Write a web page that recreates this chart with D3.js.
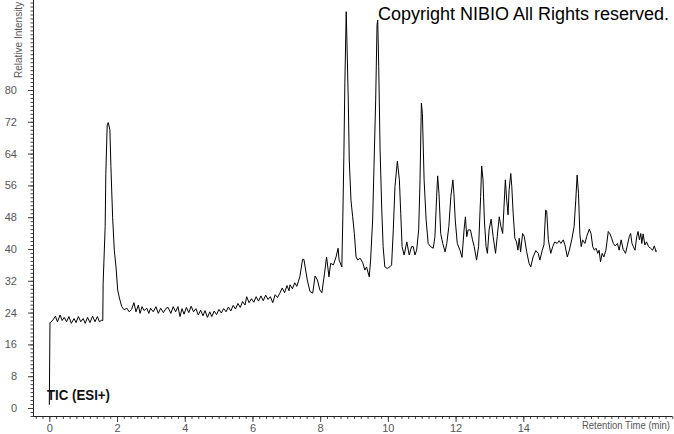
<!DOCTYPE html>
<html>
<head>
<meta charset="utf-8">
<script src="https://cdn.jsdelivr.net/npm/d3@7"></script>
<style>
  html, body { margin: 0; padding: 0; background: #fff; }
  svg { display: block; }
</style>
</head>
<body>
<svg id="chart" width="674" height="434"></svg>
<script>
// Retention time (min)
const times = [
  0.00, 0.02, 0.04, 0.12, 0.18, 0.24, 0.32, 0.38, 0.44, 0.51, 0.58, 0.65, 0.73, 0.79, 0.86, 0.93,
  1.00, 1.06, 1.13, 1.20, 1.28, 1.35, 1.42, 1.48, 1.55, 1.58, 1.59, 1.65, 1.67, 1.71, 1.74, 1.79,
  1.82, 1.87, 1.92, 1.97, 2.02, 2.07, 2.14, 2.21, 2.29, 2.36, 2.43, 2.50, 2.56, 2.63, 2.68, 2.74,
  2.80, 2.88, 2.94, 2.99, 3.07, 3.15, 3.22, 3.29, 3.37, 3.45, 3.51, 3.59, 3.66, 3.73, 3.80, 3.86,
  3.92, 3.98, 4.05, 4.12, 4.19, 4.26, 4.33, 4.40, 4.47, 4.54, 4.60, 4.67, 4.74, 4.80, 4.87, 4.94,
  5.01, 5.08, 5.15, 5.22, 5.29, 5.36, 5.43, 5.50, 5.57, 5.64, 5.71, 5.78, 5.83, 5.90, 5.97, 6.04,
  6.11, 6.18, 6.25, 6.32, 6.39, 6.46, 6.53, 6.60, 6.67, 6.74, 6.81, 6.88, 6.95, 7.02, 7.08, 7.11,
  7.18, 7.25, 7.31, 7.40, 7.48, 7.52, 7.62, 7.70, 7.78, 7.85, 7.92, 7.99, 8.05, 8.13, 8.19, 8.26,
  8.31, 8.39, 8.47, 8.53, 8.56, 8.64, 8.67, 8.70, 8.73, 8.77, 8.79, 8.83, 8.86, 8.91, 8.96, 9.01,
  9.06, 9.11, 9.18, 9.26, 9.32, 9.37, 9.45, 9.49, 9.55, 9.59, 9.64, 9.68, 9.70, 9.73, 9.77, 9.82,
  9.86, 9.91, 9.98, 10.06, 10.11, 10.16, 10.21, 10.28, 10.34, 10.38, 10.42, 10.48, 10.56, 10.63, 10.70, 10.75,
  10.80, 10.85, 10.91, 10.95, 10.99, 11.02, 11.07, 11.13, 11.19, 11.26, 11.34, 11.39, 11.44, 11.47, 11.51, 11.56,
  11.62, 11.69, 11.74, 11.80, 11.86, 11.92, 11.95, 11.99, 12.05, 12.13, 12.19, 12.25, 12.29, 12.33, 12.37, 12.44,
  12.50, 12.55, 12.62, 12.68, 12.74, 12.77, 12.81, 12.85, 12.90, 12.94, 12.99, 13.05, 13.11, 13.18, 13.23, 13.29,
  13.34, 13.39, 13.43, 13.47, 13.51, 13.55, 13.58, 13.63, 13.66, 13.70, 13.75, 13.80, 13.84, 13.88, 13.92, 13.98,
  14.03, 14.10, 14.17, 14.22, 14.29, 14.37, 14.44, 14.49, 14.56, 14.61, 14.66, 14.69, 14.74, 14.81, 14.87, 14.93,
  15.00, 15.06, 15.11, 15.18, 15.23, 15.30, 15.36, 15.43, 15.50, 15.55, 15.59, 15.63, 15.67, 15.71, 15.75, 15.82,
  15.87, 15.95, 16.00, 16.05, 16.10, 16.15, 16.20, 16.24, 16.28, 16.33, 16.38, 16.44, 16.51, 16.56, 16.61, 16.66,
  16.71, 16.78, 16.83, 16.89, 16.95, 17.02, 17.07, 17.13, 17.17, 17.21, 17.25, 17.30, 17.35, 17.39, 17.43, 17.47,
  17.50, 17.54, 17.59, 17.64, 17.70, 17.76, 17.82, 17.87, 17.92, 17.94
];
// Relative intensity
const intensities = [
  0.8, 21.5, 21.5, 22.3, 23.1, 21.7, 23.4, 22.0, 22.8, 21.7, 23.0, 21.3, 22.5, 21.5, 23.0, 21.7,
  22.5, 21.3, 22.8, 21.5, 23.1, 21.7, 23.0, 21.7, 22.1, 22.0, 31.4, 45.6, 59.0, 71.2, 71.8, 70.0,
  60.7, 48.0, 39.7, 35.5, 29.7, 27.7, 25.5, 24.7, 25.1, 24.2, 24.8, 26.5, 24.2, 25.9, 23.8, 25.5,
  24.5, 25.1, 23.8, 25.1, 24.2, 25.5, 23.8, 25.1, 24.0, 25.1, 25.3, 23.8, 25.5, 24.2, 25.5, 23.0,
  25.0, 23.6, 25.3, 24.0, 25.6, 24.2, 25.0, 23.4, 24.6, 23.2, 24.5, 22.8, 24.2, 23.0, 24.4, 23.5,
  24.8, 23.9, 25.0, 24.2, 25.4, 24.4, 25.8, 24.9, 26.3, 25.3, 26.8, 25.9, 28.0, 26.5, 27.5, 26.6,
  28.0, 26.9, 28.2, 27.0, 28.4, 27.3, 28.0, 26.5, 28.5, 27.8, 28.9, 30.2, 29.0, 30.8, 29.5, 31.0,
  30.0, 31.5, 30.6, 33.0, 37.4, 37.4, 32.2, 29.3, 28.9, 33.2, 32.2, 29.7, 29.0, 33.9, 38.0, 33.0,
  36.4, 36.0, 38.0, 40.2, 37.2, 35.5, 48.0, 63.2, 81.8, 99.7, 92.6, 77.5, 62.4, 52.3, 48.1, 43.9,
  38.0, 37.2, 37.7, 36.5, 34.7, 35.5, 33.0, 37.2, 47.3, 60.7, 77.5, 96.4, 97.6, 85.9, 64.9, 49.8,
  40.6, 35.5, 35.1, 35.5, 36.0, 44.8, 55.7, 62.1, 57.4, 49.0, 40.6, 38.5, 41.8, 38.5, 40.6, 40.6,
  38.5, 39.7, 44.8, 57.4, 76.7, 74.1, 57.4, 47.3, 41.4, 40.6, 40.2, 43.1, 53.2, 58.4, 54.0, 43.9,
  41.4, 39.3, 41.4, 45.6, 53.2, 57.4, 54.0, 47.3, 41.4, 39.7, 37.9, 44.8, 48.1, 43.1, 44.8, 44.8,
  42.3, 40.6, 37.2, 40.6, 53.2, 60.9, 57.4, 47.3, 40.6, 38.9, 44.8, 47.5, 43.1, 38.9, 43.1, 48.1,
  45.6, 43.9, 50.6, 57.4, 52.3, 48.6, 54.8, 59.0, 55.7, 49.0, 42.7, 41.8, 39.7, 42.7, 39.3, 43.9,
  43.1, 39.3, 36.4, 35.5, 38.0, 39.6, 38.9, 37.2, 39.7, 41.0, 49.8, 49.6, 42.3, 38.9, 40.6, 41.8,
  41.4, 42.1, 41.4, 42.3, 41.0, 38.0, 39.7, 42.3, 45.6, 52.3, 58.6, 54.0, 43.9, 40.6, 42.3, 41.4,
  43.1, 45.0, 43.9, 40.6, 39.7, 40.2, 38.9, 39.7, 36.8, 38.9, 38.0, 39.7, 44.4, 43.8, 42.7, 41.4,
  40.8, 41.4, 39.7, 42.3, 39.9, 38.9, 40.8, 43.1, 43.9, 41.4, 40.6, 39.7, 43.1, 44.4, 42.3, 43.9,
  41.4, 43.8, 41.0, 41.8, 40.6, 40.2, 39.7, 40.8, 39.3, 39.6
];
const xTickLabels = [0, 2, 4, 6, 8, 10, 12, 14];
const yTickLabels = [0, 8, 16, 24, 32, 40, 48, 56, 64, 72, 80];
const xTitle = "Retention Time (min)";
const yTitle = "Relative Intensity";
const traceLabel = "TIC (ESI+)";
const copyrightText = "Copyright NIBIO All Rights reserved.";

const svg = d3.select("#chart");
const x = d3.scaleLinear().domain([0, 14]).range([49.3, 523.3]);
const y = d3.scaleLinear().domain([0, 80]).range([408, 90]);

const axisX0 = 33, axisY0 = 416;
const font = "'Liberation Sans', Arial, sans-serif";
const tickColor = "#444";
const labelColor = "#555";

// Y axis
const yMinor = d3.range(-2, 103, 1);
const gyMinor = svg.append("g").attr("transform", `translate(${axisX0},0)`)
  .call(d3.axisLeft(y).tickValues(yMinor).tickSize(2.5).tickFormat(""));
gyMinor.select(".domain").remove();
gyMinor.selectAll("line").attr("stroke", tickColor);
const gy = svg.append("g").attr("transform", `translate(${axisX0},0)`)
  .call(d3.axisLeft(y).tickValues(yTickLabels).tickSize(5).tickPadding(11));
gy.select(".domain").remove();
gy.selectAll("line").attr("stroke", tickColor);
gy.selectAll("text").attr("font-family", font).attr("font-size", 11).attr("fill", labelColor);

// X axis
const xMinor = d3.range(-2, 93).map(i => i * 0.2);
const gxMinor = svg.append("g").attr("transform", `translate(0,${axisY0})`)
  .call(d3.axisBottom(x).tickValues(xMinor).tickSize(3).tickFormat(""));
gxMinor.select(".domain").remove();
gxMinor.selectAll("line").attr("stroke", tickColor);
const gx = svg.append("g").attr("transform", `translate(0,${axisY0})`)
  .call(d3.axisBottom(x).tickValues(xTickLabels).tickSize(6).tickPadding(2));
gx.select(".domain").remove();
gx.selectAll("line").attr("stroke", tickColor);
gx.selectAll("text").attr("font-family", font).attr("font-size", 11).attr("fill", labelColor);

// axis lines
svg.append("line").attr("x1", axisX0 + 0.5).attr("x2", axisX0 + 0.5).attr("y1", 0).attr("y2", axisY0 + 0.5)
  .attr("stroke", "#222").attr("stroke-width", 1);
svg.append("line").attr("x1", axisX0).attr("x2", 672).attr("y1", axisY0 + 0.5).attr("y2", axisY0 + 0.5)
  .attr("stroke", "#222").attr("stroke-width", 1);

// titles
svg.append("text").attr("x", 670).attr("y", 429).attr("text-anchor", "end")
  .attr("font-family", font).attr("font-size", 10).attr("fill", labelColor)
  .attr("textLength", 88).attr("lengthAdjust", "spacingAndGlyphs").text(xTitle);
svg.append("text").attr("transform", "translate(22,78) rotate(-90)")
  .attr("font-family", font).attr("font-size", 10).attr("fill", labelColor).text(yTitle);

// trace
const pts = times.map((t, i) => [t, intensities[i]]);
const line = d3.line().x(d => x(d[0])).y(d => y(d[1]));
svg.append("path").datum(pts).attr("d", line)
  .attr("fill", "none").attr("stroke", "#000").attr("stroke-width", 1);

// annotations
svg.append("text").attr("x", 47).attr("y", 400)
  .attr("font-family", font)
  .attr("font-weight", "bold").attr("font-size", 15.5).attr("fill", "#111")
  .attr("textLength", 63).attr("lengthAdjust", "spacingAndGlyphs").text(traceLabel);
svg.append("text").attr("x", 378).attr("y", 20)
  .attr("font-family", font).attr("font-size", 18).attr("fill", "#000").text(copyrightText);
</script>
</body>
</html>
